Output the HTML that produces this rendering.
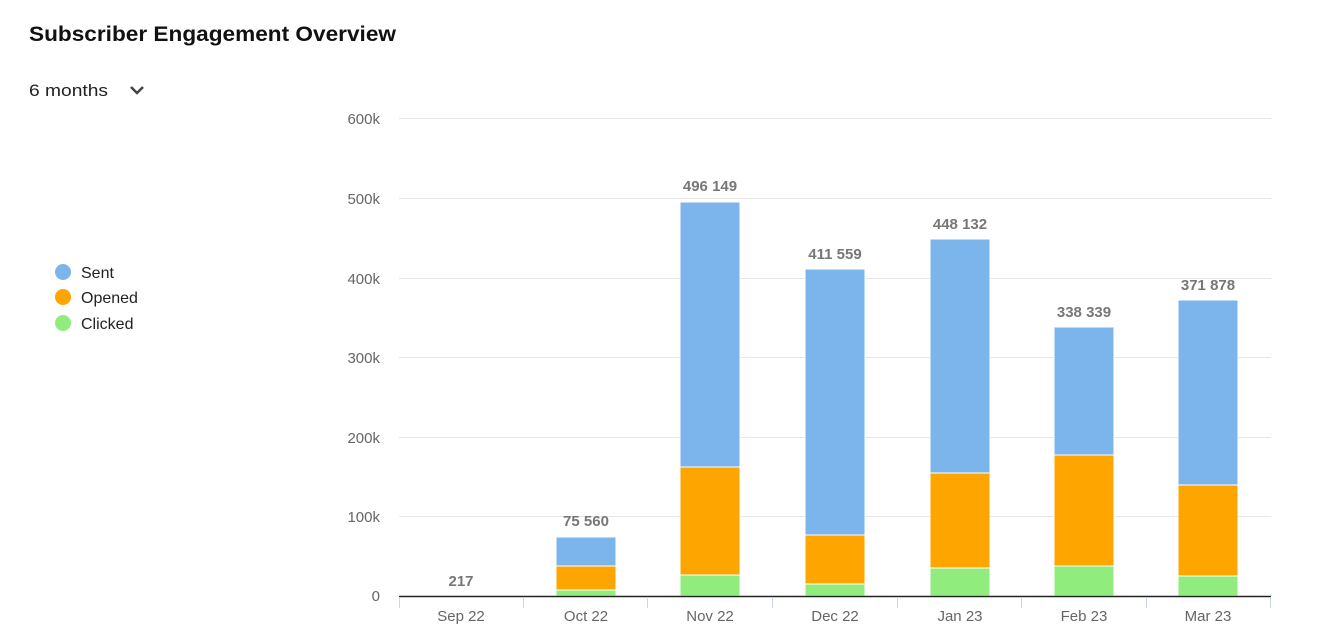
<!DOCTYPE html>
<html><head><meta charset="utf-8"><style>
html,body{margin:0;padding:0;background:#fff;width:1317px;height:644px;overflow:hidden;font-family:"Liberation Sans",sans-serif}
</style></head><body>
<svg width="1317" height="644" xmlns="http://www.w3.org/2000/svg" font-family="'Liberation Sans', sans-serif">
<text x="29" y="41" font-size="21" font-weight="bold" fill="#111" textLength="367" lengthAdjust="spacingAndGlyphs">Subscriber Engagement Overview</text>
<text x="29" y="96" font-size="17" fill="#222" textLength="79" lengthAdjust="spacingAndGlyphs">6 months</text>
<path d="M131 87 L137 93 L143 87" fill="none" stroke="#444" stroke-width="2.5"/>
<circle cx="63" cy="272" r="8" fill="#7cb5ec"/><text x="81" y="278" font-size="16" fill="#222">Sent</text>
<circle cx="63" cy="297" r="8" fill="#ffa500"/><text x="81" y="303" font-size="16" fill="#222">Opened</text>
<circle cx="63" cy="323" r="8" fill="#90ed7d"/><text x="81" y="329" font-size="16" fill="#222">Clicked</text>
<g stroke="#e6e6e6" stroke-width="1">
<line x1="399" x2="1271" y1="118.5" y2="118.5"/><line x1="399" x2="1271" y1="198.5" y2="198.5"/>
<line x1="399" x2="1271" y1="278.5" y2="278.5"/><line x1="399" x2="1271" y1="357.5" y2="357.5"/>
<line x1="399" x2="1271" y1="437.5" y2="437.5"/><line x1="399" x2="1271" y1="516.5" y2="516.5"/>
</g>
<g font-size="15" fill="#666" text-anchor="end">
<text x="380" y="124">600k</text><text x="380" y="204">500k</text><text x="380" y="284">400k</text>
<text x="380" y="363">300k</text><text x="380" y="443">200k</text><text x="380" y="522">100k</text><text x="380" y="601">0</text>
</g>
<g stroke="#fff" stroke-width="1">
<rect x="556" y="537" width="60" height="29" fill="#7cb5ec"/><rect x="556" y="566" width="60" height="24" fill="#ffa500"/><rect x="556" y="590" width="60" height="6" fill="#90ed7d"/>
<rect x="680" y="202" width="60" height="265" fill="#7cb5ec"/><rect x="680" y="467" width="60" height="108" fill="#ffa500"/><rect x="680" y="575" width="60" height="21" fill="#90ed7d"/>
<rect x="805" y="269" width="60" height="266" fill="#7cb5ec"/><rect x="805" y="535" width="60" height="49" fill="#ffa500"/><rect x="805" y="584" width="60" height="12" fill="#90ed7d"/>
<rect x="930" y="239" width="60" height="234" fill="#7cb5ec"/><rect x="930" y="473" width="60" height="95" fill="#ffa500"/><rect x="930" y="568" width="60" height="28" fill="#90ed7d"/>
<rect x="1054" y="327" width="60" height="128" fill="#7cb5ec"/><rect x="1054" y="455" width="60" height="111" fill="#ffa500"/><rect x="1054" y="566" width="60" height="30" fill="#90ed7d"/>
<rect x="1178" y="300" width="60" height="185" fill="#7cb5ec"/><rect x="1178" y="485" width="60" height="91" fill="#ffa500"/><rect x="1178" y="576" width="60" height="20" fill="#90ed7d"/>
</g>
<g font-size="15" font-weight="bold" fill="#777" text-anchor="middle">
<text x="461" y="586">217</text><text x="586" y="526">75 560</text><text x="710" y="191">496 149</text>
<text x="835" y="259">411 559</text><text x="960" y="229">448 132</text><text x="1084" y="317">338 339</text><text x="1208" y="290">371 878</text>
</g>
<line x1="399" x2="1271" y1="596.5" y2="596.5" stroke="#222" stroke-width="1.5"/>
<g stroke="#ccd6eb" stroke-width="1">
<line x1="399.5" x2="399.5" y1="597" y2="608"/><line x1="523.5" x2="523.5" y1="597" y2="608"/><line x1="647.5" x2="647.5" y1="597" y2="608"/>
<line x1="772.5" x2="772.5" y1="597" y2="608"/><line x1="897.5" x2="897.5" y1="597" y2="608"/><line x1="1021.5" x2="1021.5" y1="597" y2="608"/>
<line x1="1146.5" x2="1146.5" y1="597" y2="608"/><line x1="1270.5" x2="1270.5" y1="597" y2="608"/>
</g>
<g font-size="15" fill="#666" text-anchor="middle">
<text x="461" y="621">Sep 22</text><text x="586" y="621">Oct 22</text><text x="710" y="621">Nov 22</text>
<text x="835" y="621">Dec 22</text><text x="960" y="621">Jan 23</text><text x="1084" y="621">Feb 23</text><text x="1208" y="621">Mar 23</text>
</g>
</svg>
</body></html>
